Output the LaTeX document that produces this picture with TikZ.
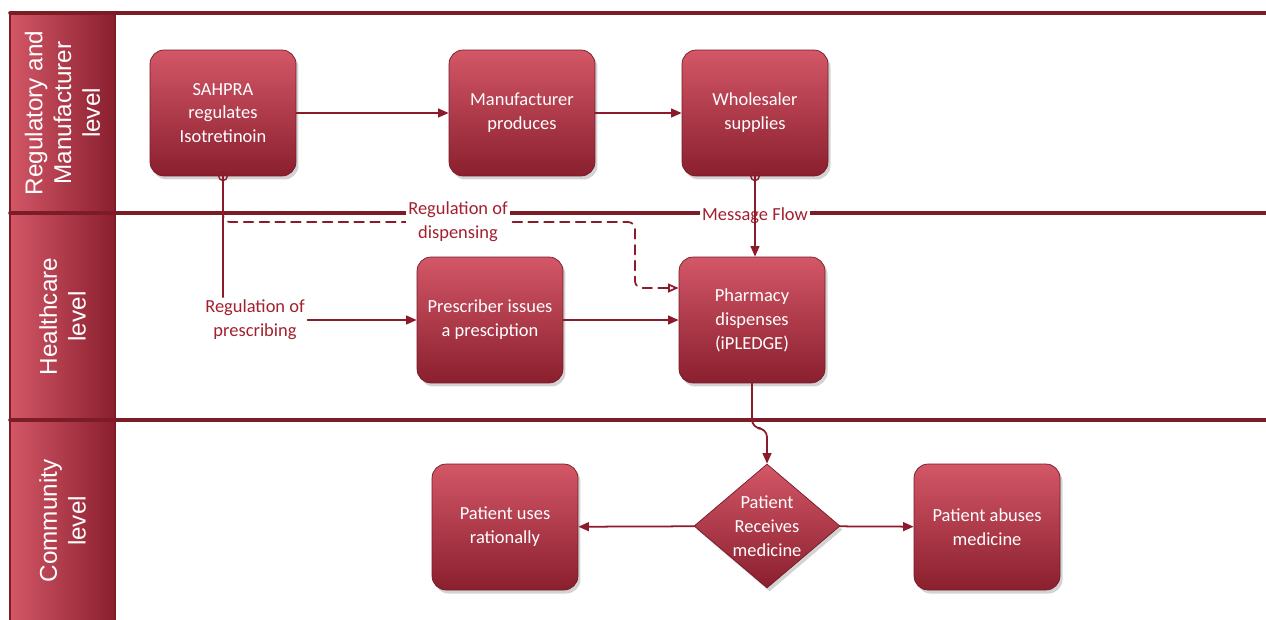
\documentclass[tikz,border=0pt]{standalone}
\usepackage{fontspec}
\setmainfont{Carlito}
\newfontfamily\lanefont{Liberation Sans}
\usetikzlibrary{arrows.meta,shapes.geometric,shadows}

\definecolor{laneline}{HTML}{7B1C27}
\definecolor{boxlight}{HTML}{D35767}
\definecolor{boxdark}{HTML}{8A1F2E}
\definecolor{flowred}{HTML}{8B1A2A}
\definecolor{labelred}{HTML}{A3202F}

\begin{document}
\begin{tikzpicture}[x=0.02cm, y=-0.02cm, line cap=round, line join=round,
		font=\fontsize{10.5}{13.6}\selectfont,
		task/.style={draw=boxdark!85!black, line width=0.4pt, rounded corners=8pt,
			top color=boxlight, bottom color=boxdark, text=white, align=center,
			minimum width=2.92cm, minimum height=2.52cm,
			drop shadow={opacity=0.35, shadow xshift=0.05cm, shadow yshift=-0.07cm}},
		decision/.style={diamond, shape aspect=1.18, draw=boxdark!85!black, line width=0.4pt,
			top color=boxlight, bottom color=boxdark, text=white, align=center, inner sep=0pt,
			minimum width=2.92cm, minimum height=2.48cm,
			drop shadow={opacity=0.35, shadow xshift=0.05cm, shadow yshift=-0.07cm}},
		lanetext/.style={text=white, align=center, rotate=90,
			font=\lanefont\fontsize{13.8}{16.4}\selectfont},
		note/.style={text=labelred, align=center, inner sep=1.5pt},
		flow/.style={draw=flowred, line width=1pt, -{Triangle[length=6pt,width=5pt]}},
		plainflow/.style={draw=flowred, line width=1pt},
		dashflow/.style={draw=flowred, line width=1pt, dash pattern=on 5.5pt off 3.5pt,
			-{Triangle[open,length=6pt,width=5pt]}}]
	% Window and lane bounds (pixels of the original)
	\def\xL{10} \def\xH{115} \def\xR{1266}
	\def\yA{13} \def\yB{213} \def\yC{420} \def\yD{630}
	\useasboundingbox (0,0) rectangle (1266,619);
	
	% Lane headers
	\shade[left color=boxlight, right color=boxdark, draw=laneline, line width=1pt] (\xL,\yA) rectangle (\xH,\yB);
	\shade[left color=boxlight, right color=boxdark, draw=laneline, line width=1pt] (\xL,\yB) rectangle (\xH,\yC);
	\shade[left color=boxlight, right color=boxdark, draw=laneline, line width=1pt] (\xL,\yC) rectangle (\xH,\yD);
	\node[lanetext] (lane1) at (62.5,113) {Regulatory and\\Manufacturer\\level};
	\node[lanetext] (lane2) at (62.5,316.5) {Healthcare\\level};
	\node[lanetext] (lane3) at (62.5,521) {Community\\level};
	
	% Lane borders
	\draw[laneline, line width=2pt] (\xL,\yA) -- (\xR,\yA);
	\draw[laneline, line width=2pt] (\xL,\yB) -- (\xR,\yB);
	\draw[laneline, line width=2pt] (\xL,\yC) -- (\xR,\yC);
	\draw[laneline, line width=1pt] (\xH,\yA) -- (\xH,\yD);
	
	% Activities
	\node[task] (sahpra) at (223,113) {SAHPRA\\regulates\\Isotretinoin};
	\node[task] (maker) at (522,113) {Manufacturer\\produces};
	\node[task] (wholesaler) at (755,113) {Wholesaler\\supplies};
	\node[task] (prescriber) at (490,320) {Prescriber issues\\a presciption};
	\node[task] (pharmacy) at (752,320) {Pharmacy\\dispenses\\(iPLEDGE)};
	\node[task] (rational) at (505,527) {Patient uses\\rationally};
	\node[decision] (decide) at (767,526) {Patient\\Receives\\medicine};
	\node[task] (abuse) at (987,527) {Patient abuses\\medicine};
	
	% Sequence flows
	\draw[flow] (sahpra) -- (maker);
	\draw[flow] (maker) -- (wholesaler);
	\draw[flow] (prescriber) -- (pharmacy);
	\draw[flow, rounded corners=5pt] (pharmacy.south) -- ++(0,45) -| (decide.north);
	\draw[flow] (decide) -- (rational);
	\draw[flow] (decide) -- (abuse);
	
	% Message flow
	\node[note, fill=white] (msg) at (755,216) {Message Flow};
	\draw[flow] (wholesaler.south) -- (wholesaler.south |- pharmacy.north);
	\draw[flowred, line width=0.8pt] (wholesaler.south) circle (2.4pt);
	
	% Regulation of prescribing
	\node[note] (regpresc) at (255,320) {Regulation of\\prescribing};
	\draw[plainflow] (sahpra.south) -- (sahpra.south |- regpresc.north);
	\draw[flow] (regpresc.east) -- (prescriber.west);
	
	% Regulation of dispensing
	\coordinate (dcorner) at (635,222);
	\draw[dashflow, rounded corners=4pt] (sahpra.south) |- (dcorner) |- ([yshift=0.64cm]pharmacy.west);
	\node[note, fill=white] (regdisp) at (458,222) {Regulation of\\dispensing};
	\draw[flowred, line width=0.8pt] (sahpra.south) circle (2.4pt);
\end{tikzpicture}
\end{document}
